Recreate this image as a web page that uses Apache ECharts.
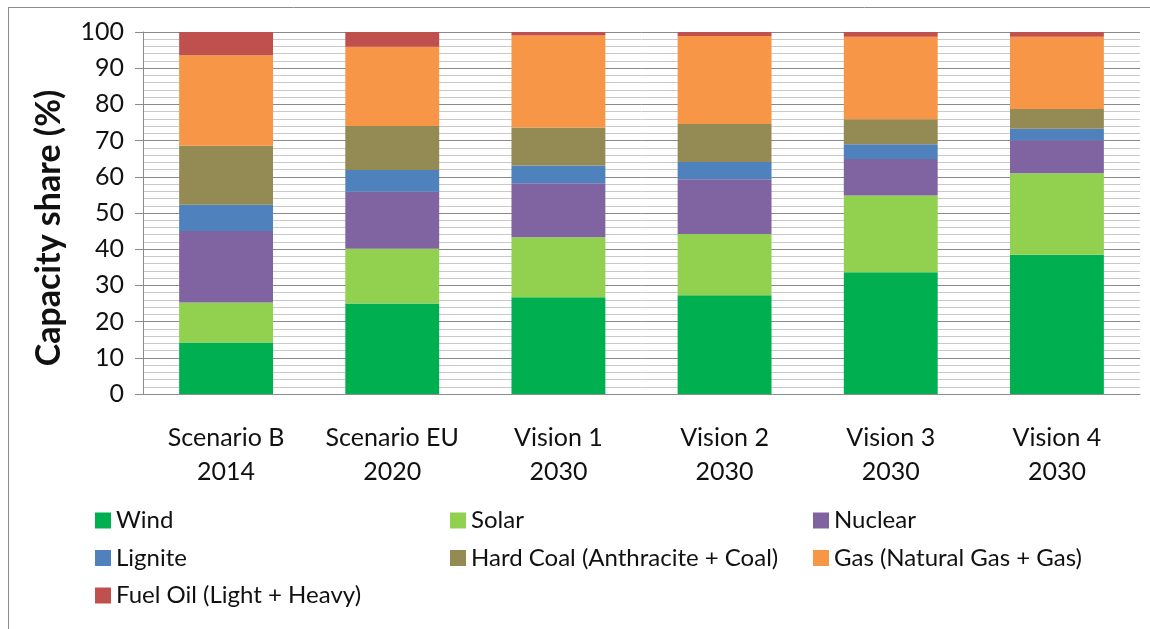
<!DOCTYPE html>
<html>
<head>
<meta charset="utf-8">
<script src="https://cdn.jsdelivr.net/npm/echarts@6/dist/echarts.min.js"></script>
<style>
   html, body { margin: 0; padding: 0; background: #fff; }
   #chart { width: 1150px; height: 629px; }
</style>
</head>
<body>
<div id="chart"></div>
<script>
// categories (two-line labels)
const categories = [
   "Scenario B\n2014",
   "Scenario EU\n2020",
   "Vision 1\n2030",
   "Vision 2\n2030",
   "Vision 3\n2030",
   "Vision 4\n2030",
];
// capacity share per technology (%)
const wind = [14.2, 25.0, 26.7, 27.3, 33.6, 38.5];
const solar = [11.1, 15.1, 16.6, 16.9, 21.2, 22.5];
const nuclear = [19.7, 15.8, 14.9, 15.1, 10.1, 9.1];
const lignite = [7.3, 6.0, 4.9, 4.8, 4.1, 3.2];
const hardCoal = [16.3, 12.1, 10.5, 10.5, 6.9, 5.4];
const gas = [25.0, 21.9, 25.4, 24.3, 22.8, 20.0];
const fuelOil = [6.4, 4.1, 1.0, 1.1, 1.3, 1.3];

const seriesNames = [
   "Wind",
   "Solar",
   "Nuclear",
   "Lignite",
   "Hard Coal (Anthracite + Coal)",
   "Gas (Natural Gas + Gas)",
   "Fuel Oil (Light + Heavy)",
];
const seriesData = [wind, solar, nuclear, lignite, hardCoal, gas, fuelOil];
const colors = ["#00B050", "#92D050", "#8064A2", "#4F81BD", "#948A54", "#F79646", "#C0504D"];

const FONT = "Lato, 'Open Sans', sans-serif";
const TEXT = "#111";

const chart = echarts.init(document.getElementById("chart"));

const legendCommon = {
   orient: "vertical",
   top: 503,
   itemWidth: 16,
   itemHeight: 16,
   itemGap: 12.5,
   icon: "rect",
   selectedMode: false,
   textStyle: { fontFamily: FONT, fontSize: 24, color: TEXT, lineHeight: 25 },
};

let option = {
   animation: false,
   color: colors,
   grid: {
      left: 143,
      right: 10,
      top: 32,
      bottom: 235,
   },
   legend: [
      Object.assign({ left: 90, data: ["Wind", "Lignite", "Fuel Oil (Light + Heavy)"] }, legendCommon),
      Object.assign({ left: 445, data: ["Solar", "Hard Coal (Anthracite + Coal)"] }, legendCommon),
      Object.assign({ left: 808, data: ["Nuclear", "Gas (Natural Gas + Gas)"] }, legendCommon),
   ],
   xAxis: {
      type: "category",
      data: categories,
      axisLine: { lineStyle: { color: "#8c8c8c", width: 1 } },
      axisTick: { show: false },
      axisLabel: {
         interval: 0,
         fontFamily: FONT,
         fontSize: 25,
         color: TEXT,
         lineHeight: 34,
         margin: 27,
      },
   },
   yAxis: {
      type: "value",
      min: 0,
      max: 100,
      interval: 10,
      name: "Capacity share (%)",
      nameLocation: "middle",
      nameRotate: 90,
      nameGap: 77,
      nameTextStyle: {
         fontFamily: FONT,
         fontSize: 34,
         fontWeight: "bold",
         color: TEXT,
         padding: [0, 30, 0, 0],
      },
      axisLine: { show: true, lineStyle: { color: "#8c8c8c" } },
      axisTick: { show: true, length: 8, lineStyle: { color: "#8c8c8c" } },
      minorTick: { show: false, splitNumber: 5 },
      axisLabel: { fontFamily: FONT, fontSize: 25, color: TEXT, margin: 19 },
      splitLine: { show: true, lineStyle: { color: "#8a8a8a", width: 1 } },
      minorSplitLine: { show: true, lineStyle: { color: "#c9c9c9", width: 1 } },
   },
   series: seriesNames.map((name, i) => {
      return {
         type: "bar",
         name,
         stack: "total",
         barWidth: "56.5%",
         data: seriesData[i],
      };
   }),
   graphic: [
      {
         type: "line",
         shape: { x1: 8, y1: 7.5, x2: 1150, y2: 7.5 },
         style: { stroke: "#8c8c8c", lineWidth: 1 },
      },
      {
         type: "line",
         shape: { x1: 8.5, y1: 7, x2: 8.5, y2: 629 },
         style: { stroke: "#8c8c8c", lineWidth: 1 },
      },
   ],
};
chart.setOption(option);
</script>
</body>
</html>
